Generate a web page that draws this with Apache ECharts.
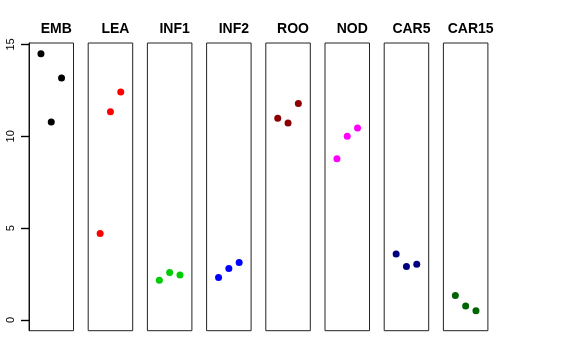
<!DOCTYPE html>
<html><head><meta charset="utf-8">
<script src="https://cdn.jsdelivr.net/npm/echarts@6/dist/echarts.min.js"></script>
<style>html,body{margin:0;padding:0;background:#fff}#c{width:576px;height:360px}</style>
</head><body><div id="c"></div>
<script>
const categories = ['EMB','LEA','INF1','INF2','ROO','NOD','CAR5','CAR15'];
const colors = ['#000000','#FF0000','#00CD00','#0000FF','#8B0000','#FF00FF','#000080','#006400'];
const positions = [1, 2, 3];
const valEMB = [14.49, 10.78, 13.17];
const valLEA = [4.71, 11.34, 12.41];
const valINF1 = [2.17, 2.59, 2.45];
const valINF2 = [2.32, 2.80, 3.13];
const valROO = [10.99, 10.72, 11.79];
const valNOD = [8.78, 10.00, 10.45];
const valCAR5 = [3.59, 2.91, 3.04];
const valCAR15 = [1.34, 0.76, 0.51];
const yTicks = [0, 5, 10, 15];

const values = [valEMB, valLEA, valINF1, valINF2, valROO, valNOD, valCAR5, valCAR15];
const yMin = -0.58, yMax = 15.08;
const gTop = 43, gHeight = 287.7, left0 = 29, pitch = 59.2, gW = 44.5;

const grids = [], xAxes = [], yAxes = [], series = [], titles = [];
categories.forEach((c, i) => {
  grids.push({left: left0 + i*pitch, top: gTop, width: gW, height: gHeight, show: true,
    borderColor: '#222', borderWidth: 1, backgroundColor: 'transparent'});
  xAxes.push({gridIndex: i, type: 'value', min: -0.16, max: 4.16, show: false});
  if (i === 0) {
    yAxes.push({gridIndex: i, type: 'value', position: 'left', min: yMin, max: yMax, show: true,
      axisLine: {show: true, onZero: false, lineStyle: {color: '#111', width: 1}},
      axisTick: {show: true, inside: false, length: 8, customValues: yTicks, lineStyle: {color: '#000', width: 1.4}},
      splitLine: {show: false},
      axisLabel: {show: true, customValues: yTicks, rotate: 90, margin: 13, fontSize: 11,
        fontFamily: 'Liberation Sans', color: '#000'}});
  } else {
    yAxes.push({gridIndex: i, type: 'value', min: yMin, max: yMax, show: false});
  }
  series.push({type: 'scatter', xAxisIndex: i, yAxisIndex: i, symbolSize: 7,
    itemStyle: {color: colors[i], opacity: 1},
    data: positions.map((p, k) => [p, values[i][k]])});
  titles.push({text: c, left: left0 + i*pitch + gW/2, top: 17, textAlign: 'center',
    textStyle: {fontFamily: 'Liberation Sans', fontWeight: 'bold', fontSize: 14, color: '#000'}});
});

const chart = echarts.init(document.getElementById('c'), null, {renderer: 'canvas'});
chart.setOption({animation: false, backgroundColor: '#fff', title: titles,
  grid: grids, xAxis: xAxes, yAxis: yAxes, series: series});
</script></body></html>
